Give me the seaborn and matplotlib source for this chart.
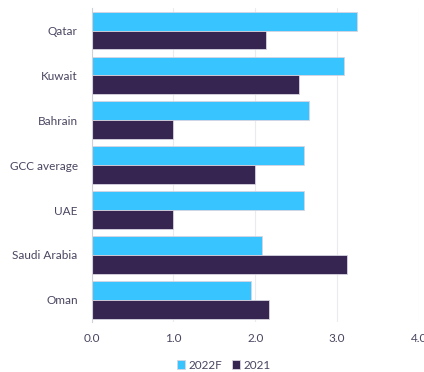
import matplotlib
matplotlib.use("Agg")
import matplotlib.pyplot as plt
import seaborn as sns
import pandas as pd

countries = ["Qatar", "Kuwait", "Bahrain", "GCC average", "UAE", "Saudi Arabia", "Oman"]
values_2022f = [3.24, 3.08, 2.66, 2.60, 2.59, 2.08, 1.95]
values_2021 = [2.13, 2.53, 0.99, 2.00, 1.00, 3.12, 2.17]
series = ["2022F", "2021"]
xticks = [0.0, 1.0, 2.0, 3.0, 4.0]

df = pd.DataFrame({
    "country": countries * 2,
    "value": values_2022f + values_2021,
    "series": [series[0]] * len(countries) + [series[1]] * len(countries),
})

sns.set_theme(style="white")
plt.rcParams["font.family"] = ["Lato", "DejaVu Sans"]
text_color = "#4a4560"

fig = plt.figure(figsize=(4.24, 3.72), dpi=100)
ax = fig.add_axes([0.216, 0.134, 0.772, 0.844])
palette = {"2022F": "#38C4FF", "2021": "#362551"}
sns.barplot(data=df, y="country", x="value", hue="series", order=countries,
            hue_order=series, palette=palette, orient="h", width=0.84,
            edgecolor="#d8d4e0", linewidth=0.6, ax=ax, saturation=1)

ax.set_xlim(0, 4)
ax.set_ylim(6.5, -0.5)
ax.set_xticks(xticks)
ax.set_xticklabels([f"{t:.1f}" for t in xticks])
ax.set_xlabel("")
ax.set_ylabel("")
ax.xaxis.grid(True, color="#ebebef", linewidth=0.8)
ax.set_axisbelow(True)
for s in ["top", "right", "bottom"]:
    ax.spines[s].set_visible(False)
ax.spines["left"].set_color("#d0d0d8")
ax.spines["left"].set_linewidth(0.8)
ax.tick_params(axis="both", length=0, colors=text_color, labelsize=8.5)
ax.tick_params(axis="x", pad=8)
ax.tick_params(axis="y", pad=10)

leg = ax.legend(loc="center", bbox_to_anchor=(0.405, -0.137), ncol=2,
                frameon=False, handlelength=0.7, handleheight=0.7,
                handletextpad=0.3, columnspacing=0.8, fontsize=8.5)
for t in leg.get_texts():
    t.set_color(text_color)

fig.savefig("out.png", dpi=100)
